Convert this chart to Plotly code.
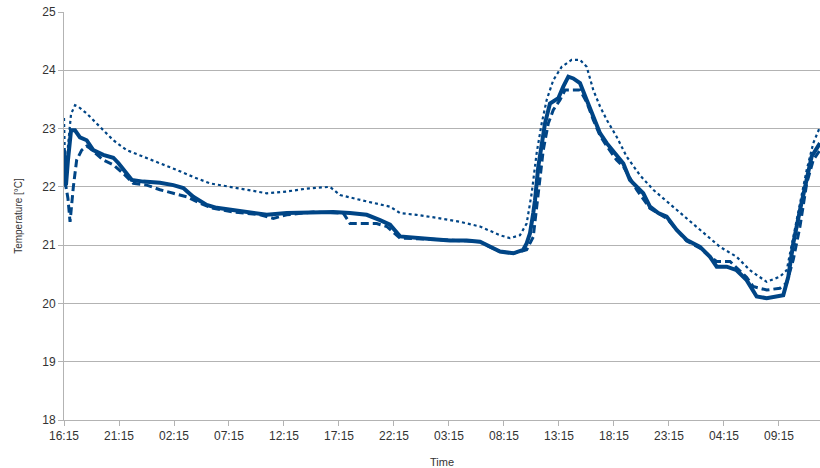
import plotly.graph_objects as go

# Hours elapsed since 16:15 and temperatures [°C]
solid_h = [0.00, 0.18, 0.36, 0.64, 1.00, 1.18, 1.45, 2.06, 2.66, 3.57, 4.48, 4.94, 5.70, 6.15, 7.21, 8.73,
           9.94, 10.85, 11.75, 12.97, 13.88, 15.39, 17.21, 18.43, 20.25, 22.66, 24.48, 26.00, 27.52, 28.73,
           29.64, 30.55, 32.06, 33.57, 35.09, 36.61, 37.82, 38.73, 39.64, 40.85, 41.45, 41.75, 42.06, 42.36,
           42.66, 42.82, 43.12, 43.43, 43.73, 44.18, 44.94, 45.39, 45.85, 46.30, 46.91, 47.52, 48.12, 48.73,
           49.34, 50.09, 50.85, 51.45, 52.06, 52.66, 53.27, 54.03, 54.79, 55.70, 56.61, 57.82, 58.73, 59.34,
           60.25, 61.15, 62.06, 62.97, 63.88, 64.79, 65.39, 65.85, 66.30, 66.91, 67.52, 67.97, 68.73]
solid_t = [22.63, 22.03, 22.46, 22.97, 22.97, 22.93, 22.85, 22.80, 22.63, 22.55, 22.50, 22.41, 22.24, 22.12, 22.09, 22.07,
           22.03, 21.98, 21.83, 21.69, 21.64, 21.60, 21.55, 21.52, 21.55, 21.57, 21.57, 21.55, 21.52, 21.43,
           21.35, 21.15, 21.12, 21.10, 21.08, 21.08, 21.06, 20.97, 20.89, 20.86, 20.89, 20.92, 21.03, 21.20,
           21.55, 21.77, 22.35, 22.75, 23.09, 23.43, 23.52, 23.72, 23.89, 23.86, 23.78, 23.49, 23.20, 22.92,
           22.75, 22.58, 22.40, 22.12, 22.00, 21.89, 21.66, 21.55, 21.49, 21.26, 21.09, 20.97, 20.80, 20.63,
           20.63, 20.57, 20.40, 20.12, 20.09, 20.12, 20.14, 20.46, 21.03, 21.60, 22.17, 22.52, 22.75]

dashed_h = [0.09, 0.36, 0.55, 0.85, 1.15, 1.61, 2.06, 2.36, 3.57, 4.48, 5.39, 6.30, 7.52, 8.73, 9.94, 11.15,
            12.36, 13.57, 15.39, 17.82, 19.03, 20.25, 22.66, 25.39, 26.00, 28.43, 29.34, 30.55, 33.57, 36.61,
            37.82, 38.73, 39.64, 40.85, 42.06, 42.66, 43.12, 43.57, 44.03, 44.48, 45.09, 45.55, 46.91, 47.52,
            48.12, 48.73, 49.34, 50.24, 50.85, 52.06, 53.27, 54.79, 56.61, 57.82, 58.73, 59.34, 60.55, 62.06,
            62.66, 63.88, 65.09, 65.70, 66.30, 66.91, 67.52, 68.12, 68.73]
dashed_t = [22.10, 21.80, 21.40, 22.00, 22.46, 22.63, 22.70, 22.66, 22.46, 22.38, 22.23, 22.06, 22.03, 21.95, 21.89, 21.83,
            21.72, 21.63, 21.57, 21.52, 21.46, 21.52, 21.57, 21.55, 21.37, 21.37, 21.32, 21.12, 21.10, 21.08,
            21.06, 20.97, 20.89, 20.86, 20.92, 21.14, 21.95, 22.63, 23.09, 23.32, 23.49, 23.66, 23.66, 23.45,
            23.15, 22.88, 22.70, 22.46, 22.35, 21.95, 21.63, 21.46, 21.07, 20.95, 20.80, 20.72, 20.72, 20.45,
            20.29, 20.23, 20.26, 20.35, 20.75, 21.32, 22.06, 22.46, 22.63]

dotted_h = [0.00, 0.14, 0.36, 0.64, 1.00, 1.27, 2.06, 3.27, 4.48, 5.70, 7.21, 8.73, 10.25, 11.75, 13.27, 14.79,
            16.61, 18.43, 20.25, 22.06, 24.18, 25.09, 27.52, 29.64, 30.55, 32.06, 34.18, 36.00, 37.82, 39.64,
            40.55, 41.45, 42.06, 42.52, 42.97, 43.43, 43.88, 44.48, 45.25, 46.15, 46.91, 47.52, 48.12, 48.73,
            49.34, 50.24, 51.15, 52.36, 53.57, 54.18, 56.00, 57.82, 59.64, 61.15, 62.36, 63.88, 65.09, 65.70,
            66.30, 66.91, 67.52, 68.12, 68.73]
dotted_t = [23.18, 22.00, 22.70, 23.25, 23.40, 23.38, 23.26, 23.03, 22.80, 22.63, 22.52, 22.40, 22.29, 22.17, 22.06, 22.01,
            21.95, 21.89, 21.92, 21.97, 22.00, 21.86, 21.75, 21.66, 21.55, 21.52, 21.46, 21.40, 21.32, 21.17,
            21.12, 21.17, 21.37, 21.89, 22.58, 23.09, 23.49, 23.83, 24.06, 24.18, 24.18, 24.06, 23.66, 23.38,
            23.15, 22.86, 22.52, 22.20, 21.95, 21.85, 21.55, 21.26, 20.97, 20.80, 20.57, 20.37, 20.46, 20.57,
            21.14, 21.72, 22.29, 22.75, 23.03]

tick_labels = ["16:15", "21:15", "02:15", "07:15", "12:15", "17:15", "22:15",
               "03:15", "08:15", "13:15", "18:15", "23:15", "04:15", "09:15"]
tick_hours = [5 * i for i in range(len(tick_labels))]

color = "#004586"
fig = go.Figure()
fig.add_trace(go.Scatter(x=dotted_h, y=dotted_t, mode="lines",
                         line=dict(color=color, width=2.2, dash="dot")))
fig.add_trace(go.Scatter(x=dashed_h, y=dashed_t, mode="lines",
                         line=dict(color=color, width=3, dash="8px,4px")))
fig.add_trace(go.Scatter(x=solid_h, y=solid_t, mode="lines",
                         line=dict(color=color, width=4)))

font = "Liberation Sans, Arial, sans-serif"
fig.update_layout(
    width=820, height=468,
    margin=dict(l=64, r=0, t=12, b=48),
    paper_bgcolor="white", plot_bgcolor="white",
    showlegend=False,
    font=dict(family=font, size=12, color="#333333"),
    xaxis=dict(range=[0, 68.73], tickvals=tick_hours, ticktext=tick_labels,
               showgrid=False, zeroline=False, showline=True, linecolor="#b3b3b3", linewidth=1,
               ticks="outside", ticklen=5, tickcolor="#b3b3b3",
               tickfont=dict(size=12, color="#333333"),
               title=dict(text="Time", font=dict(size=11, color="#333333"), standoff=15)),
    yaxis=dict(range=[18, 25], dtick=1, showgrid=True, gridcolor="#b3b3b3", gridwidth=1,
               zeroline=False, showline=True, linecolor="#b3b3b3", linewidth=1,
               ticks="outside", ticklen=5, tickcolor="#b3b3b3",
               tickfont=dict(size=12, color="#333333"),
               title=dict(text="Temperature [°C]", font=dict(size=10, color="#333333"), standoff=17)),
)
fig.write_html("out.html")
